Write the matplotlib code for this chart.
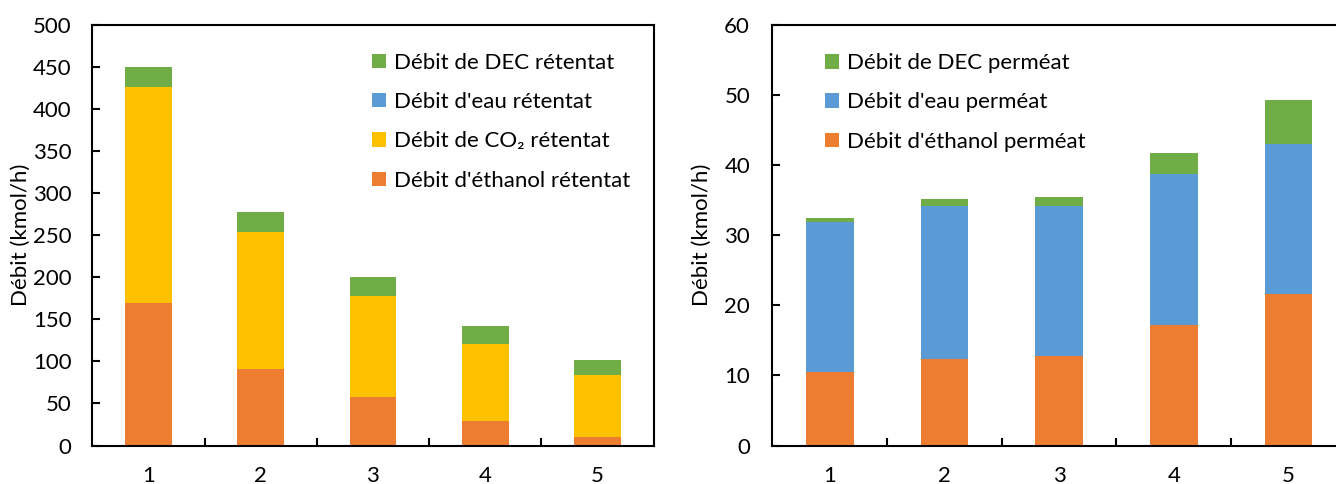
import matplotlib
matplotlib.use("Agg")
import matplotlib.pyplot as plt
import numpy as np

plt.rcParams["font.family"] = ["Lato", "DejaVu Sans"]

cases = ["1", "2", "3", "4", "5"]

# retentate flows (kmol/h)
ret_ethanol = [169.1, 90.7, 57.3, 28.7, 9.9]
ret_co2 = [257.5, 163.6, 120.6, 91.9, 73.7]
ret_water = [0, 0, 0, 0, 0]
ret_dec = [23.4, 23.1, 22.3, 21.1, 17.5]

# permeate flows (kmol/h)
perm_ethanol = [10.5, 12.4, 12.8, 17.2, 21.6]
perm_water = [21.4, 21.7, 21.3, 21.5, 21.4]
perm_dec = [0.5, 1.1, 1.3, 3.1, 6.3]

GREEN = "#70AD47"
BLUE = "#5B9BD5"
YELLOW = "#FFC000"
ORANGE = "#ED7D31"
FS = 16

fig = plt.figure(figsize=(13.36, 4.84), dpi=100)
ax1 = fig.add_axes([0.0691, 0.0795, 0.4201, 0.869])
ax2 = fig.add_axes([0.5781, 0.0795, 0.4292, 0.869])

x = np.arange(1, len(cases) + 1)


def style(ax, ymax, step, ypad, label_x):
    ax.set_xlim(0.5, len(cases) + 0.5)
    ax.set_ylim(0, ymax)
    ax.set_yticks(np.arange(0, ymax + step / 2, step))
    ax.set_xticks(x)
    ax.set_xticklabels(cases)
    ax.set_xticks(np.arange(1.5, len(cases), 1.0), minor=True)
    ax.tick_params(axis="x", which="major", length=0, pad=15, labelsize=FS)
    ax.tick_params(axis="x", which="minor", direction="in", length=6, width=1.5)
    ax.tick_params(axis="y", direction="in", length=6, width=1.5, pad=ypad, labelsize=FS)
    for sp in ax.spines.values():
        sp.set_linewidth(1.5)
    ax.set_ylabel("Débit (kmol/h)", fontsize=FS)
    ax.yaxis.set_label_coords(label_x, 0.5)


def add_legend(ax, handles, anchor):
    ax.legend(handles=handles, loc="upper left", bbox_to_anchor=anchor,
              frameon=False, fontsize=FS, borderpad=0, borderaxespad=0,
              handlelength=0.63, handleheight=0.63, handletextpad=0.35,
              labelspacing=0.87)


w = 0.416
# left: retentate
b = np.zeros(len(cases))
h_eth = ax1.bar(x, ret_ethanol, w, bottom=b, color=ORANGE, label="Débit d'éthanol rétentat")
b += ret_ethanol
h_co2 = ax1.bar(x, ret_co2, w, bottom=b, color=YELLOW, label="Débit de CO₂ rétentat")
b += ret_co2
h_wat = ax1.bar(x, ret_water, w, bottom=b, color=BLUE, label="Débit d'eau rétentat")
b += ret_water
h_dec = ax1.bar(x, ret_dec, w, bottom=b, color=GREEN, label="Débit de DEC rétentat")
style(ax1, 500, 50, 15, -0.110)
add_legend(ax1, [h_dec, h_wat, h_co2, h_eth], (0.499, 0.934))

# right: permeate
b = np.zeros(len(cases))
p_eth = ax2.bar(x, perm_ethanol, w, bottom=b, color=ORANGE, label="Débit d'éthanol perméat")
b += perm_ethanol
p_wat = ax2.bar(x, perm_water, w, bottom=b, color=BLUE, label="Débit d'eau perméat")
b += perm_water
p_dec = ax2.bar(x, perm_dec, w, bottom=b, color=GREEN, label="Débit de DEC perméat")
style(ax2, 60, 10, 16, -0.105)
add_legend(ax2, [p_dec, p_wat, p_eth], (0.092, 0.933))

fig.savefig("out.png", dpi=100)
